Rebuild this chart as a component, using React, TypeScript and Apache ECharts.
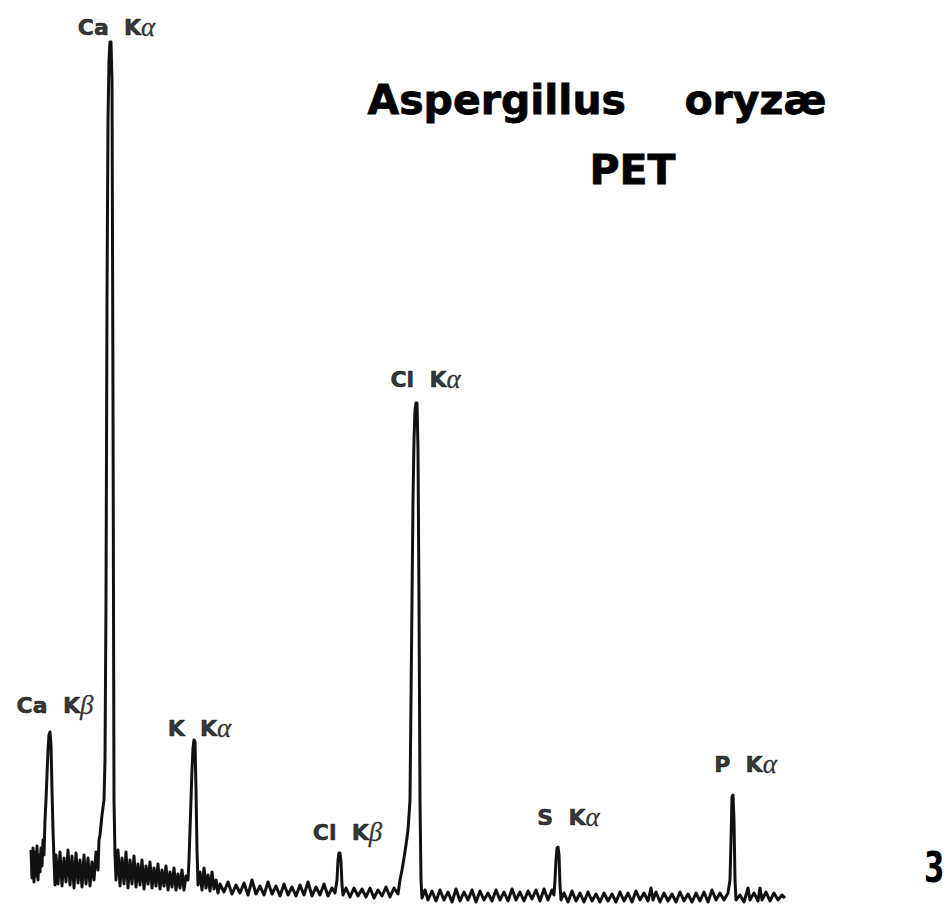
import React, { useEffect, useRef } from "react";
import * as echarts from "echarts";

// Spectrum trace: channel (horizontal) and counts (height above page bottom)
const channel = [
  31, 32, 33, 34, 35, 36, 37, 38, 39, 40, 41, 42, 43, 44, 45, 46, 47, 48, 49, 50,
  51, 52, 53, 54, 55, 56, 58, 60, 62, 64, 66, 68, 70, 72, 74, 76, 78, 80, 82, 84,
  86, 88, 90, 92, 94, 96, 98, 99, 100, 102, 104, 105, 106, 107, 108, 109, 110, 111, 112, 113,
  114, 115, 116, 118, 120, 122, 124, 126, 128, 130, 132, 134, 136, 138, 140, 142, 144, 146, 148, 150,
  152, 154, 156, 158, 160, 162, 164, 166, 168, 170, 172, 174, 176, 178, 180, 182, 184, 186, 188, 189,
  190, 191, 192, 193, 194, 195, 196, 197, 198, 200, 202, 204, 206, 208, 210, 212, 214, 216, 218, 220,
  224, 228, 232, 236, 240, 244, 248, 252, 256, 260, 264, 268, 272, 276, 280, 284, 288, 292, 296, 300,
  304, 308, 312, 316, 320, 324, 328, 332, 335, 337, 338, 339, 340, 341, 342, 343, 346, 350, 354, 358,
  362, 366, 370, 374, 378, 382, 386, 390, 394, 398, 400, 402, 404, 406, 408, 410, 411, 412, 413, 414,
  415, 416, 417, 418, 419, 420, 421, 422, 425, 428, 432, 436, 440, 444, 448, 452, 456, 460, 464, 468,
  472, 476, 480, 484, 488, 492, 496, 500, 504, 508, 512, 516, 520, 524, 528, 532, 536, 540, 544, 548,
  552, 554, 555, 556, 557, 558, 559, 560, 561, 564, 568, 572, 576, 580, 584, 588, 592, 596, 600, 604,
  608, 612, 616, 620, 624, 628, 632, 636, 640, 644, 648, 651, 653, 656, 660, 664, 668, 672, 676, 680,
  684, 688, 692, 696, 700, 704, 708, 712, 716, 720, 724, 728, 730, 731, 732, 733, 734, 735, 736, 740,
  744, 748, 750, 754, 758, 760, 762, 766, 770, 774, 778, 782, 785,
];
const counts = [
  64, 36, 66, 32, 62, 38, 68, 34, 59, 42, 66, 48, 74, 59, 94, 114, 139, 164, 179, 182,
  169, 124, 84, 54, 29, 59, 30, 62, 28, 56, 32, 64, 29, 58, 26, 61, 31, 54, 27, 59,
  30, 56, 28, 52, 34, 62, 44, 74, 79, 99, 114, 154, 314, 614, 794, 854, 872, 872, 834, 514,
  114, 59, 34, 64, 28, 56, 30, 62, 26, 54, 30, 58, 27, 50, 29, 54, 25, 48, 30, 52,
  26, 46, 28, 50, 25, 44, 28, 48, 24, 42, 27, 46, 24, 40, 26, 44, 24, 38, 34, 54,
  84, 114, 144, 166, 174, 172, 124, 64, 29, 42, 24, 46, 26, 39, 23, 42, 25, 34, 21, 30,
  22, 32, 20, 29, 21, 31, 19, 34, 20, 28, 19, 32, 20, 28, 18, 30, 19, 27, 18, 29,
  19, 32, 18, 27, 19, 30, 18, 26, 21, 34, 54, 61, 61, 52, 29, 19, 26, 17, 26, 18,
  25, 17, 26, 16, 24, 18, 27, 17, 26, 20, 34, 44, 56, 69, 84, 114, 214, 314, 414, 474,
  504, 511, 511, 464, 314, 114, 34, 16, 24, 14, 23, 13, 24, 14, 22, 12, 25, 13, 22, 14,
  24, 12, 23, 14, 21, 13, 24, 14, 22, 13, 25, 14, 22, 13, 23, 15, 24, 13, 25, 14,
  24, 19, 34, 54, 66, 67, 59, 29, 14, 21, 12, 23, 13, 21, 12, 22, 13, 20, 12, 21,
  13, 20, 12, 22, 13, 21, 12, 23, 14, 21, 13, 26, 14, 22, 12, 21, 13, 20, 12, 22,
  13, 20, 12, 21, 13, 22, 12, 24, 14, 21, 14, 21, 34, 74, 117, 119, 94, 34, 14, 19,
  12, 26, 14, 21, 13, 26, 14, 22, 13, 21, 14, 19, 16,
];

// Peak identifications
const peakElements = ["Ca", "Ca", "K", "Cl", "Cl", "S", "P"];
const peakLines = ["α", "β", "α", "β", "α", "α", "α"];
const peakChannel = [110.5, 50, 194.5, 339.5, 416.5, 557.5, 732.5];
const peakCounts = [872, 182, 174, 61, 511, 67, 119];

// Texts
const titleWords = ["Aspergillus", "oryzæ"];
const subtitle = "PET";
const pageNumber = "3";

export default function App() {
  const ref = useRef<HTMLDivElement>(null);

  useEffect(() => {
    if (!ref.current) return;
    const chart = echarts.init(ref.current, null, { renderer: "svg" });

    const labelOffsets: [number, number][] = [
      [6, -15],
      [5, -27],
      [5, -12],
      [8, -21],
      [9, -24],
      [11, -30],
      [13, -31],
    ];

    const titleFont = {
      fontFamily: "DejaVu Sans",
      fontWeight: "bold" as const,
      fontSize: 41,
      fill: "#000",
      stroke: "#000",
      lineWidth: 0.8,
    };

    chart.setOption({
      animation: false,
      backgroundColor: "#ffffff",
      grid: { left: 0, right: 0, top: 0, bottom: 0, containLabel: false },
      xAxis: { type: "value", min: 0, max: 945, show: false },
      yAxis: { type: "value", min: 0, max: 914, show: false },
      series: [
        {
          type: "line",
          data: channel.map((c, i) => [c, counts[i]]),
          showSymbol: false,
          symbol: "none",
          lineStyle: { color: "#111", width: 3, join: "round" },
          silent: true,
          clip: false,
        },
        {
          type: "scatter",
          symbolSize: 0,
          silent: true,
          itemStyle: { color: "#000" },
          data: peakChannel.map((c, i) => ({
            value: [c, peakCounts[i]],
            name: peakElements[i] + " K" + peakLines[i],
            label: { offset: labelOffsets[i] },
          })),
          label: {
            show: true,
            position: "inside",
            color: "#000",
            formatter: (p: any) => {
              const i = p.dataIndex;
              return `{b|${peakElements[i]}  K}{g|${peakLines[i]}}`;
            },
            rich: {
              b: {
                fontFamily: "DejaVu Sans",
                fontWeight: "bold",
                fontSize: 22,
                color: "#000",
                textBorderColor: "#000",
                textBorderWidth: 0.6,
              },
              g: {
                fontFamily: "Liberation Serif",
                fontStyle: "italic",
                fontSize: 27,
                color: "#000",
                textBorderColor: "#000",
                textBorderWidth: 0.3,
              },
            },
          },
        },
      ],
      graphic: [
        {
          type: "text",
          left: 367,
          top: 79,
          style: { text: titleWords[0], ...titleFont },
        },
        {
          type: "text",
          left: 684,
          top: 79,
          style: { text: titleWords[1], ...titleFont },
        },
        {
          type: "text",
          left: 589,
          top: 149,
          style: { text: subtitle, ...titleFont },
        },
        {
          type: "text",
          x: 924,
          y: 847,
          scaleX: 0.7,
          style: {
            text: pageNumber,
            fontFamily: "DejaVu Sans",
            fontWeight: "bold",
            fontSize: 42,
            fill: "#000",
          },
        },
      ],
    });

    return () => chart.dispose();
  }, []);

  return (
    <div
      ref={ref}
      style={{ position: "absolute", left: 0, top: 0, width: 945, height: 914, background: "#fff" }}
    />
  );
}
